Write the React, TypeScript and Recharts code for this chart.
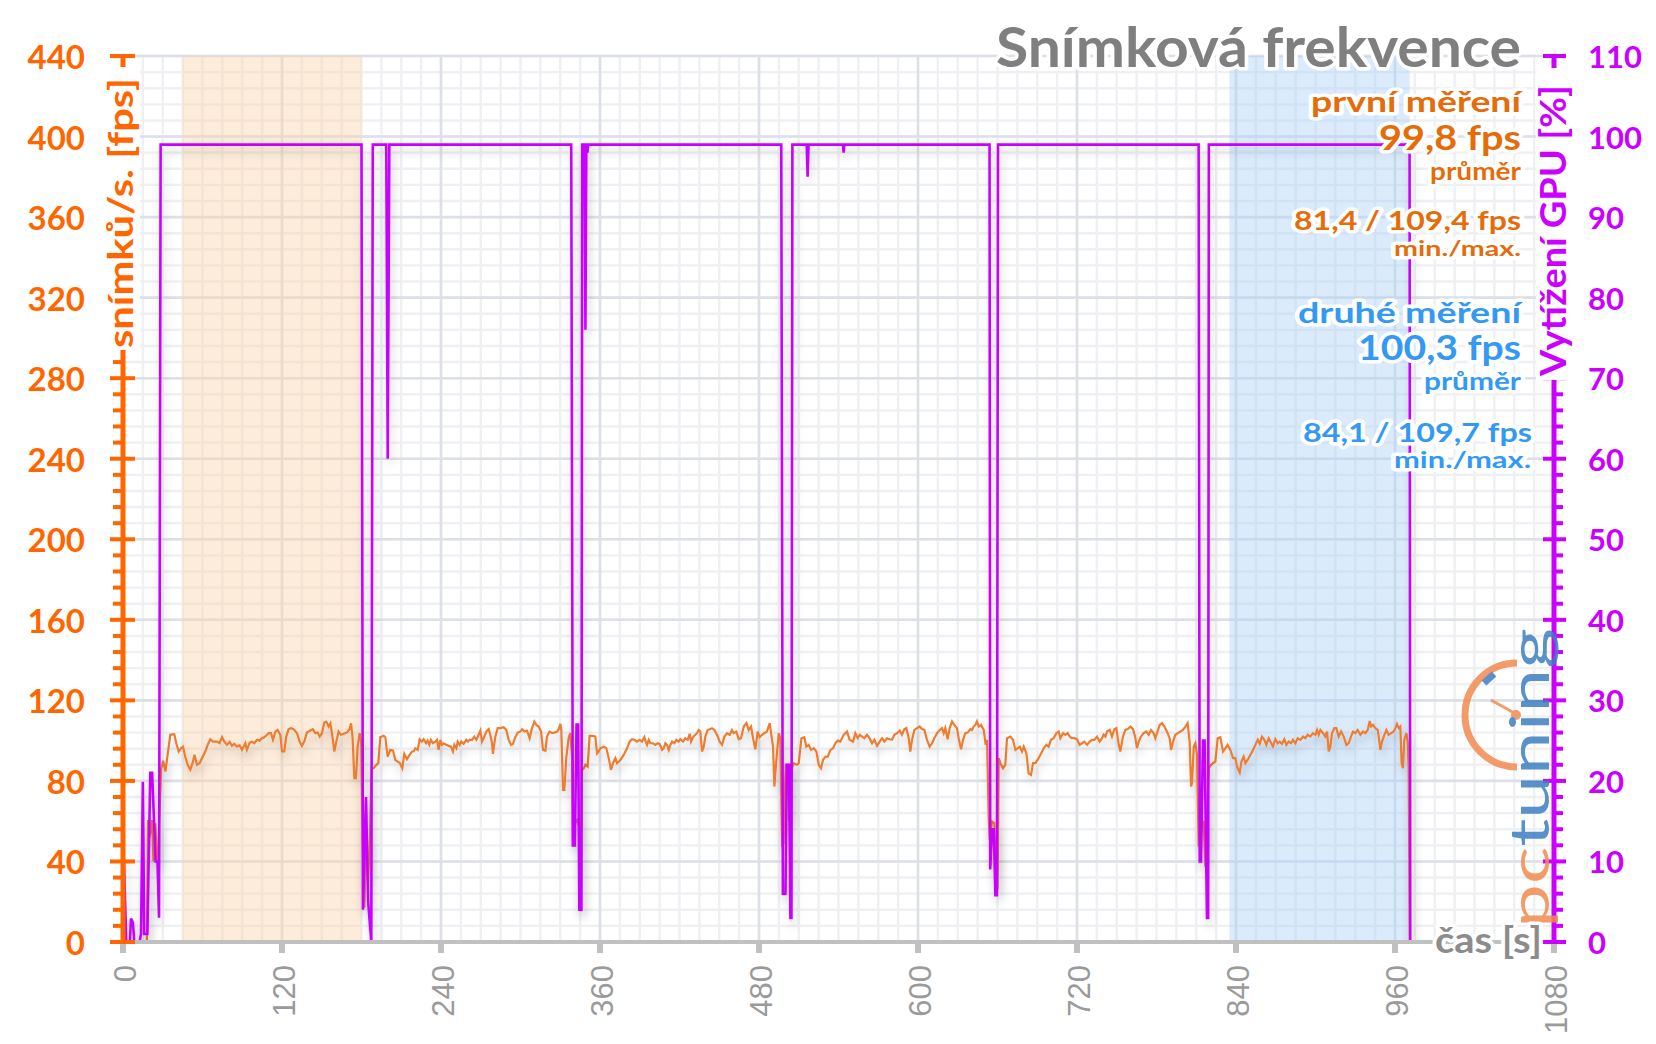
import React from 'react';
import { LineChart, Line, XAxis, YAxis, CartesianGrid, ReferenceArea } from 'recharts';

// ---------- data: [time s, fps] ----------
const fpsStart: number[][] = [
  [0, 0], [18, 0], [18.9, 60.6], [20, 52], [21.9, 60.6], [23, 40], [24.4, 59], [25.6, 40.7], [26.4, 40],
  [27.4, 60], [28.8, 86], [30.3, 90], [32, 84.6],
];
const fpsSegA: number[][] = [
  [34.5, 97], [35.7, 102.9], [38.7, 103.2], [40.2, 98.7], [42, 94.6], [43.7, 96.2], [45.3, 97], [47, 92], [48.8, 88],
  [50.8, 85.5], [52.5, 88.8], [54, 93], [55.8, 88], [57.8, 88.8], [59.6, 91.3], [62.1, 94.6], [63.9, 97.9], [65.9, 100.7],
  [67.9, 99.5], [70.9, 99.5], [72.9, 98.7], [74.7, 101.7], [76.5, 99.5], [78.5, 97.9], [80.5, 99.4], [82.2, 97.4], [84, 98.4],
  [86, 97], [88, 97.7], [89.8, 95.4], [91, 97], [92.3, 98.7], [93.5, 95.4], [95.6, 99], [97.3, 99.5], [99.1, 98.7],
  [101.1, 100.4], [103.1, 100], [104.9, 101.2], [106.6, 101.7], [108.7, 102.9], [109.9, 103.7], [111.7, 103.7], [113.2, 100.4],
  [115, 104.5], [116.7, 105.3], [118.7, 102.9], [120, 94.6], [121.7, 94.6], [123.2, 102], [125, 105.7], [126.8, 106.2],
  [128.8, 105.7], [131.3, 103.7], [133.3, 99.5], [135, 97.4], [136.8, 99.5], [138.8, 104], [141.3, 105], [143.3, 105.7],
  [145.1, 103.7], [146.9, 104], [148.4, 102], [150.2, 103.7], [151.9, 109], [153.4, 109.4], [155.2, 107], [156.5, 108.6],
  [157.7, 103.7], [159.5, 94.6], [161, 99.5], [162.7, 104.5], [164.5, 102.9], [166.5, 103.4], [169, 104], [171, 105.7],
  [172.1, 108.6], [173.3, 101.2], [174.6, 81.4], [175.8, 81.4], [177.1, 97], [178.6, 103.7], [179.8, 98.7],
  [180.8, 50], [182.2, 17], [183.6, 55], [185, 30], [186.5, 55], [187.6, 86.3], [189.2, 86.3], [191.2, 88], [192.7, 88.8],
  [194.2, 101.7], [196.7, 102.4],
];
const fpsSegB: number[][] = [
  [198, 101.7], [199.7, 92], [201.7, 95.4], [203.8, 95], [205.5, 90.4], [207.3, 89.6], [208.8, 89], [210.8, 86.3], [212.3, 93.4],
  [214.3, 90.8], [216.3, 92.9], [218.1, 94.6], [219.4, 94.6], [220.6, 96.2], [222.4, 95.4], [223.9, 100.7], [225.6, 99.5],
  [226.9, 100.7], [228.7, 98.7], [229.9, 100], [231.2, 97.9], [232.4, 100.4], [233.9, 98.7], [235.7, 99.5], [237, 100.4],
  [238.2, 95.4], [239.5, 100.4], [240.7, 97.9], [242, 98.7], [244, 97.9], [245.8, 97.4], [247.5, 97], [249, 94.6], [250.1, 97.9],
  [251.6, 96.2], [252.6, 99.5], [254.1, 97.9], [255.3, 99.5], [257.1, 98.4], [259.1, 100.4], [260.4, 99.5], [261.6, 100.4],
  [263.4, 100.4], [265.1, 102], [266.7, 100.4], [268.4, 102.9], [269.7, 105], [270.9, 99.5], [272.2, 101.2], [274.2, 104.5],
  [276, 105.7], [277.2, 102.9], [278.5, 98.7], [279.2, 93.4], [281, 102], [282.8, 106.2], [284.8, 106.2], [287.3, 106.7],
  [289.3, 105.3], [291.1, 100.4], [292.8, 97.9], [294.3, 98.4], [296.1, 101.7], [297.9, 104], [299.9, 104.5],
];
const fpsSegC: number[][] = [
  [301.2, 105.7], [302.9, 104.5], [304.9, 105], [306.9, 101.2], [308.7, 106.2], [310.5, 109.5], [312, 107.8], [313.7, 107],
  [315.5, 104.5], [317, 95.4], [318.8, 95], [320, 102], [322, 104.5], [323.8, 103.7], [325.6, 104], [327.6, 104.5], [328.8, 105.7],
  [330.1, 108.3], [330.8, 105.3], [332.1, 75.5], [333.1, 75.5], [334.6, 92], [336.4, 101.7], [337.6, 103.7], [338.9, 92],
  [339.6, 50], [341.2, 59], [342.7, 60.6], [344.2, 57], [345.2, 16], [345.8, 50], [346.4, 85.5], [347.8, 86.3], [349, 88],
  [350.7, 87.1], [352.2, 102.4], [354.7, 102.4], [356.5, 102], [357.8, 93.7], [359, 94.6], [360.3, 96.2], [362.8, 97],
  [364.8, 96.2], [366.6, 91.3], [368.3, 85.5], [369.8, 88.8], [371.6, 91.3], [372.9, 88.8], [375.4, 90.4], [377.9, 92.9],
  [380.4, 96.2], [382.4, 99.5], [384.2, 100.7], [385.9, 100.4], [387.9, 99.5], [390, 100.4], [391.7, 99.5], [393.5, 101.7],
  [394.5, 99.5], [395.5, 97.9], [396.8, 100.4], [398, 98.7], [400, 98.7], [401.8, 97.9], [403.5, 98.7], [405, 98.4],
  [406.8, 95.4], [408.1, 96.2], [409.3, 98.7], [410.6, 97.9], [411.9, 95.4], [413.1, 97.9], [414.4, 99.5], [416.1, 98.7],
  [417.6, 100.4], [419.4, 99.5], [420.6, 100.7], [422.7, 99.5], [424.4, 101.2], [426.2, 100.4], [427.7, 103.4], [428.7, 99.5],
  [430.2, 101.7], [432, 102.9], [433.2, 103.7], [434.5, 105.3], [435.7, 104.5], [437, 94.6], [438.3, 97], [439.5, 102],
  [441.3, 105.3], [442.8, 105.7], [444.5, 106.2], [446.3, 105.3], [448.3, 102.9], [450.3, 99.5], [452.1, 97.9], [453.9, 102],
  [455.9, 103.7], [457.9, 102.9], [459.6, 105.3], [460.9, 103.7], [462.9, 104.5], [464.7, 100.7], [466.4, 101.2], [468.5, 107],
  [470.5, 108.7], [472.2, 105.3], [474, 107], [475.5, 101.2], [477.2, 95.7], [479, 104.5], [480.5, 101.7], [482.3, 102.9],
  [484, 103.7], [486, 104.5], [488.1, 108.7], [489.1, 103.7], [490.6, 97], [491.6, 77.2], [493.1, 90.4], [494.9, 103.7],
  [496.1, 101.2], [497.4, 48.2], [498.6, 49], [500.1, 88], [501.7, 88], [502.7, 60.6], [503.7, 60.6], [504.9, 86.3],
  [506.2, 88.8], [508.7, 88], [510, 88.8], [512, 101.2], [514.2, 101.7], [515.7, 97], [517.5, 97.9], [519.3, 95.4],
  [521.3, 96.2], [523.3, 94.6], [525.1, 88], [526.8, 86.3], [528.3, 90.4], [530.1, 92], [531.9, 92], [533.9, 95.4],
  [535.9, 96.2], [537.6, 98.7], [539.4, 100], [541.4, 99.5], [543.9, 102.9], [546.4, 104.5], [548.4, 100.4],
];
const fpsSegD: number[][] = [
  [551, 99.5], [552.7, 103.7], [554.5, 101.2], [556, 102.9], [557.8, 102], [559.5, 101.2], [561.5, 102.9], [563.5, 101.2],
  [565.3, 98.7], [567.1, 100.4], [569.1, 97.4], [571.1, 99.5], [572.8, 101.2], [574.6, 99.5], [576.6, 101.2], [578.6, 100.7],
  [580.4, 100.4], [582.2, 102.9], [584.2, 103.7], [586.2, 105], [587.9, 102.9], [589.7, 105.7], [591.2, 106.2], [593, 101.2],
  [594.2, 94.6], [595.5, 100.4], [597.3, 105.3], [599.3, 106.2], [601.3, 107], [603, 105.7], [604.8, 105.3], [606.8, 100.4],
  [608.8, 97], [610.6, 98.7], [612.3, 101.2], [614.4, 103.7], [616.4, 105.3], [618.1, 106.2], [619.4, 103.7], [620.6, 106.2],
  [622.4, 100.7], [623.9, 106.2], [625.7, 109.5], [627.4, 107.8], [629.4, 106.2], [630.7, 101.2], [632.5, 95.7], [634, 100.4],
  [635.7, 103.7], [637.5, 104], [639.5, 105.7], [640.8, 105.3], [642, 107], [643.3, 107.8], [644.5, 109.5], [645.8, 107],
  [647.5, 107.8], [649.6, 105.3], [651.1, 97.9], [652.1, 100.4], [653.4, 60.6], [654.1, 50.7], [655.9, 59.8], [657.6, 59],
  [659.1, 26.7], [660.1, 26.7], [660.9, 91.3], [662.2, 88.8], [664.2, 86.3], [665.9, 88], [667.2, 101.2], [669.7, 102],
  [671.7, 100.4], [673.5, 95.4], [675.2, 96.2], [676.8, 97], [678.5, 94.6], [679.8, 97], [681.8, 93.7], [683.5, 83.8],
  [685.3, 83], [686.8, 88.8], [688.6, 88.8], [690.3, 90.4], [692.3, 92.9], [694.9, 96.2], [696.9, 97.9], [698.6, 97],
  [700.4, 100.4], [702.4, 101.2], [704.4, 103.7], [706.2, 104.5], [707.4, 101.2], [709.5, 103.7], [711.2, 102.9], [713, 103.7],
  [714.5, 102], [716.2, 101.2], [718, 101.2], [720, 100.7], [722, 97.9], [723.8, 98.7], [725.6, 99.5], [727.6, 97.9],
  [729.6, 99.5], [731.3, 100.4], [733.1, 100.4], [735.1, 102], [737.1, 99.5], [738.9, 101.2], [740.1, 102.9], [741.4, 102],
  [742.7, 104.5], [744.7, 105.3], [746.4, 102], [748.2, 105.7], [749.7, 106.2], [751.5, 97.9], [752.7, 94.6], [754.7, 102],
  [756.5, 105.3], [758.3, 105.7], [760.3, 107], [762.3, 105.7], [764.1, 101.2], [765.3, 96.2], [766.6, 99.5], [768.3, 102],
  [770.3, 103.7], [772.3, 104.5], [774.1, 102.9], [775.9, 105.3], [777.9, 103.7], [779.1, 101.2], [780.4, 103.7], [782.4, 107.8],
  [784.2, 108.7], [785.9, 107], [787.9, 104.5], [789.9, 101.2], [791, 95.4], [792.5, 99.5], [794.2, 102.9], [796, 103.7],
  [798, 104.5], [800, 105.3], [801.8, 107], [803.5, 108.7], [805, 99.5], [806.1, 77.2], [806.8, 78.8], [808.1, 97],
  [809.3, 98.7], [810.6, 92.9], [811.8, 48.2], [813.1, 49], [814.4, 59.8], [815.6, 59.8], [816.9, 37.4], [818, 59],
  [819.4, 86.3], [821.2, 88], [822.7, 88.8], [824.4, 89.6], [826.2, 101.2], [828.2, 101.7], [830.2, 94.6], [831.9, 96.2],
  [833.7, 97.9], [835.7, 95.4], [837.8, 91.3], [839.5, 91.3], [840.8, 87.1], [842.8, 84.1],
];
const fpsSegE: number[][] = [
  [844.1, 89.6], [845.8, 92.1], [847.1, 88.8], [848.8, 90.4], [850.8, 92.9], [852.9, 95.4], [854.6, 97.9], [856.4, 100.4],
  [857.9, 98.4], [859.6, 102], [861.4, 100.4], [862.9, 97.9], [864.7, 101.2], [866.4, 99], [867.9, 97.1], [869.7, 100.7],
  [871.5, 98.7], [873, 99.5], [874.7, 98.4], [876.5, 100.7], [878, 97.9], [879.8, 99.5], [881.5, 98.7], [883, 100.4],
  [884.8, 98.7], [886.6, 101.2], [888.6, 100.4], [890.6, 102], [892.3, 101.2], [894.1, 102.9], [896.1, 102], [898.1, 103.7],
  [899.9, 102.9], [901.2, 105.3], [902.4, 102.9], [903.7, 105.3], [905.7, 103.7], [907.4, 102], [908.7, 104.5], [910, 94.6],
  [911.2, 97.1], [912.5, 103.7], [914.2, 106.2], [915.7, 106.2], [917.5, 102], [919.3, 104.5], [921.3, 102], [923.3, 97.9],
  [925, 98.7], [926.8, 102], [928.3, 104.5], [930.1, 103.7], [931.8, 105.3], [933.9, 102.9], [935.9, 104.5], [937.6, 103.7],
  [939.4, 105.3], [940.9, 109.7], [941.9, 107], [943.4, 107.8], [945.2, 106.2], [947, 105.3], [949, 95.4], [950.2, 99.5],
  [952, 102.9], [953.5, 105.3], [955.2, 102.9], [957, 103.7], [959, 104.5], [960.3, 106.2], [961.5, 108.3], [962.8, 106.2],
  [964, 107], [965, 88.8], [966, 86.3], [967, 100.4], [968.6, 103.7], [969.6, 99], [970.3, 87.1], [971.1, 0], [986.5, 0],
];

// ---------- data: [time s, GPU load %] ----------
const gpuSegA: number[][] = [
  [0.5, 11], [2.5, 0], [5.2, 0], [6, 2.9], [7.5, 2.4], [8.5, 0], [12.5, 0], [13.6, 1], [15, 19.9], [16, 1], [18.4, 1],
  [20.6, 21], [22, 21], [24.6, 10], [26, 10], [27.2, 3], [28.4, 99],
  [180, 99], [181.1, 4], [183.4, 18], [185, 5], [187.4, 0], [188.5, 99], [198.7, 99], [199.8, 60], [201, 99],
];
const gpuSegB: number[][] = [
  [338.3, 99], [339.5, 12], [341, 12], [342.3, 27], [343.5, 27], [344.4, 4], [346, 4], [346.6, 99], [348.4, 99], [349, 76],
  [349.7, 99], [350.2, 99], [350.6, 98], [351, 99],
  [496.8, 99], [498, 6], [500, 6], [501, 22], [502.7, 22], [503.7, 3], [504.5, 3], [505.2, 99], [516, 99], [516.7, 95],
  [517.4, 99], [543.4, 99], [543.9, 98], [544.4, 99],
];
const gpuSegC: number[][] = [
  [654, 99], [654.5, 9], [655.9, 14], [657.2, 14], [658.4, 5.8], [659.6, 5.8], [660.4, 99],
  [811.8, 99], [812.6, 10], [813.6, 10], [815.1, 25], [816.3, 25], [818.1, 3], [819, 3], [819.5, 99],
  [971, 99], [971.5, 0], [986.5, 0],
];

// ---------- shaded measurement windows (s) ----------
const firstWindow = [45, 180];
const secondWindow = [835, 971];

// ---------- tick labels ----------
const xLabels = [0, 120, 240, 360, 480, 600, 720, 840, 960, 1080];
const fpsLabels = [0, 40, 80, 120, 160, 200, 240, 280, 320, 360, 400, 440];
const gpuLabels = [0, 10, 20, 30, 40, 50, 60, 70, 80, 90, 100, 110];
const xMinorStep = 15;
const fpsMinorStep = 8;
const gpuMinorStep = 2;

const range = (max: number, step: number) => {
  const out: number[] = [];
  for (let v = 0; v <= max + 1e-9; v += step) out.push(Math.round(v * 100) / 100);
  return out;
};
const xTicks = range(1080, xMinorStep);
const fpsTicks = range(440, fpsMinorStep);
const gpuTicks = range(110, gpuMinorStep);

const toPts = (arr: number[][]) => arr.map(([t, v]) => ({ t, v }));
const fpsData = toPts([...fpsStart, ...fpsSegA, ...fpsSegB, ...fpsSegC, ...fpsSegD, ...fpsSegE]);
const gpuData = toPts([...gpuSegA, ...gpuSegB, ...gpuSegC]);

const ORANGE_AX = '#ff6600';
const MAGENTA = '#cc00ff';
const FONT = 'Lato, "Open Sans", sans-serif';

const LeftTick = (props: any) => {
  const { x, y, payload } = props;
  const v = payload.value;
  const major = fpsLabels.includes(v);
  return (
    <g>
      {major ? (
        <line x1={x - 13} x2={x + 12} y1={y} y2={y} stroke={ORANGE_AX} strokeWidth={4} />
      ) : (
        <line x1={x - 10} x2={x + 1} y1={y} y2={y} stroke={ORANGE_AX} strokeWidth={4} />
      )}
      {major && (
        <text x={x - 38} y={y} textAnchor="end" dominantBaseline="central" fill={ORANGE_AX}
          fontFamily={FONT} fontWeight={700} fontSize={33}>{v}</text>
      )}
    </g>
  );
};

const RightTick = (props: any) => {
  const { x, y, payload } = props;
  const v = payload.value;
  const major = gpuLabels.includes(v);
  return (
    <g>
      {major ? (
        <line x1={x - 11} x2={x + 12} y1={y} y2={y} stroke={MAGENTA} strokeWidth={4} />
      ) : (
        <line x1={x - 1} x2={x + 9} y1={y} y2={y} stroke={MAGENTA} strokeWidth={4} />
      )}
      {major && (
        <text x={x + 34} y={y} textAnchor="start" dominantBaseline="central" fill={MAGENTA}
          fontFamily={FONT} fontWeight={700} fontSize={31}>{v}</text>
      )}
    </g>
  );
};

const BottomTick = (props: any) => {
  const { x, y, payload } = props;
  const v = payload.value;
  if (!xLabels.includes(v)) return <g />;
  const ty = y + 23;
  return (
    <g>
      <rect x={x - 3} y={y} width={6} height={11} fill="#c0c0c0" />
      <text x={x + 2} y={ty} transform={`rotate(-90 ${x + 2} ${ty})`} textAnchor="end" dominantBaseline="central"
        fill="#9a9a9a" fontFamily='"Liberation Sans", Arial, sans-serif' fontSize={31}>{v}</text>
    </g>
  );
};

const halo: any = { stroke: '#ffffff', strokeWidth: 7, strokeLinejoin: 'round', paintOrder: 'stroke' };

const Txt = ({ x, y, size, color, len, children, weight = 700 }: any) => (
  <text x={x} y={y} textAnchor="end" fontFamily={FONT} fontWeight={weight} fontSize={size} fill={color}
    textLength={len} lengthAdjust="spacingAndGlyphs" style={halo}>{children}</text>
);

const Overlay = () => {
  const OR = '#e46c0a';
  const BL = '#3399f5';
  return (
    <svg width={1656} height={1044} style={{ position: 'absolute', left: 0, top: 0, pointerEvents: 'none' }}>
      {/* logo */}
      <g opacity={0.85}>
        <path d="M 1517 663 A 52 52 0 0 0 1517 767" fill="none" stroke="#f28a4f" strokeWidth={7} />
        <line x1={1484} y1={683} x2={1494} y2={674} stroke="#3d7fc1" strokeWidth={7} />
        <line x1={1491} y1={700} x2={1516} y2={714} stroke="#f28a4f" strokeWidth={3} />
        <circle cx={1516} cy={715} r={5} fill="#f28a4f" />
        <text transform="translate(1549 928) rotate(-90)" x={0} y={0} fontFamily={FONT} fontWeight={400}
          fontSize={54} textLength={300} lengthAdjust="spacingAndGlyphs">
          <tspan fill="#f28a4f">pc</tspan><tspan fill="#3d7fc1">tuning</tspan>
        </text>
      </g>
      {/* axis titles */}
      <rect x={100} y={67} width={40} height={283} fill="#ffffff" />
      <text transform="translate(133 348) rotate(-90)" x={0} y={0} fontFamily={FONT} fontWeight={700} fontSize={35}
        fill={ORANGE_AX} textLength={270} lengthAdjust="spacingAndGlyphs">snímků/s. [fps]</text>
      <rect x={1536} y={68} width={40} height={312} fill="#ffffff" />
      <text transform="translate(1566 376) rotate(-90)" x={0} y={0} fontFamily={FONT} fontWeight={700} fontSize={36}
        fill={MAGENTA} textLength={291} lengthAdjust="spacingAndGlyphs">Vytížení GPU [%]</text>
      <Txt x={1542} y={953} size={36} color="#8c8c8c" len={107} weight={700}>čas [s]</Txt>
      {/* title */}
      <Txt x={1521} y={67} size={56} color="#7f7f7f" len={525}>Snímková frekvence</Txt>
      {/* first measurement */}
      <Txt x={1521} y={112} size={29} color={OR} len={210}>první měření</Txt>
      <Txt x={1521} y={150} size={34} color={OR} len={142}>99,8 fps</Txt>
      <Txt x={1521} y={180} size={25} color={OR} len={91}>průměr</Txt>
      <Txt x={1521} y={230} size={26} color={OR} len={227}>81,4 / 109,4 fps</Txt>
      <Txt x={1521} y={256} size={21} color={OR} len={127}>min./max.</Txt>
      {/* second measurement */}
      <Txt x={1521} y={323} size={29} color={BL} len={223}>druhé měření</Txt>
      <Txt x={1521} y={360} size={34} color={BL} len={163}>100,3 fps</Txt>
      <Txt x={1521} y={390} size={24} color={BL} len={97}>průměr</Txt>
      <Txt x={1532} y={442} size={27} color={BL} len={229}>84,1 / 109,7 fps</Txt>
      <Txt x={1531} y={468} size={22} color={BL} len={137}>min./max.</Txt>
    </svg>
  );
};

export default function App() {
  return (
    <div style={{ position: 'absolute', left: 0, top: 0, width: 1656, height: 1044, background: '#fff', overflow: 'hidden' }}>
      <LineChart width={1656} height={1044} margin={{ top: 56, right: 0, bottom: 0, left: 0 }}>
        <defs>
          <filter id="lineShadow" x="-5%" y="-5%" width="110%" height="120%">
            <feDropShadow dx={2} dy={6} stdDeviation={5} floodColor="#000" floodOpacity={0.2} />
          </filter>
        </defs>
        <CartesianGrid yAxisId="left" horizontalValues={fpsTicks} verticalValues={xTicks}
          stroke="#eef0f3" strokeWidth={2.4} />
        <CartesianGrid yAxisId="left" horizontalValues={fpsLabels} verticalValues={xLabels}
          stroke="#dde1e7" strokeWidth={2.6} />
        <XAxis dataKey="t" type="number" domain={[0, 1080]} ticks={xTicks} interval={0} height={102}
          tickSize={0} tickMargin={0} tickLine={false} tick={BottomTick} allowDataOverflow
          axisLine={{ stroke: '#c0c0c0', strokeWidth: 4 }} />
        <YAxis yAxisId="left" orientation="left" type="number" domain={[0, 440]} ticks={fpsTicks} interval={0}
          width={123} tickSize={0} tickMargin={0} tickLine={false} tick={LeftTick} allowDataOverflow
          axisLine={{ stroke: ORANGE_AX, strokeWidth: 5 }} />
        <YAxis yAxisId="right" orientation="right" type="number" domain={[0, 110]} ticks={gpuTicks} interval={0}
          width={102} tickSize={0} tickMargin={0} tickLine={false} tick={RightTick} allowDataOverflow
          axisLine={{ stroke: MAGENTA, strokeWidth: 5 }} />
        <ReferenceArea yAxisId="left" x1={firstWindow[0]} x2={firstWindow[1]} fill="#fad2a8" fillOpacity={0.42} stroke="none" />
        <ReferenceArea yAxisId="left" x1={secondWindow[0]} x2={secondWindow[1]} fill="#a9cff7" fillOpacity={0.42} stroke="none" />
        <Line yAxisId="left" data={fpsData} dataKey="v" type="linear" stroke="#ed7d31" strokeWidth={2.2} dot={false}
          isAnimationActive={false} filter="url(#lineShadow)" />
        <Line yAxisId="right" data={gpuData} dataKey="v" type="linear" stroke="#c800ff" strokeWidth={2.6} dot={false}
          isAnimationActive={false} filter="url(#lineShadow)" />
      </LineChart>
      <Overlay />
    </div>
  );
}
